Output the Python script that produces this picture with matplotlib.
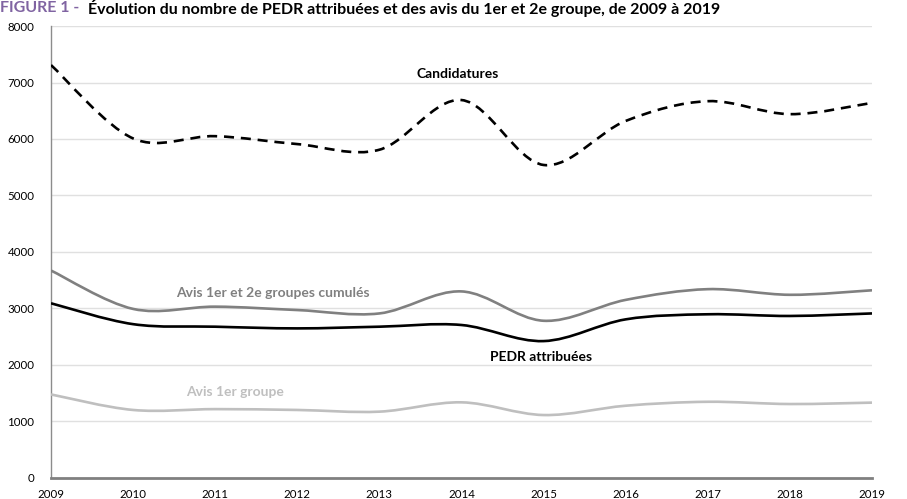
import matplotlib
matplotlib.use("Agg")
import matplotlib.pyplot as plt
from matplotlib.path import Path
from matplotlib.patches import PathPatch

years = [2009, 2010, 2011, 2012, 2013, 2014, 2015, 2016, 2017, 2018, 2019]
candidatures = [7310, 6010, 6050, 5910, 5810, 6690, 5540, 6320, 6670, 6440, 6640]
avis_cumules = [3670, 2990, 3030, 2970, 2910, 3300, 2780, 3150, 3340, 3240, 3320]
pedr_attribuees = [3090, 2720, 2675, 2645, 2675, 2705, 2420, 2805, 2895, 2865, 2910]
avis_1er = [1475, 1200, 1215, 1200, 1170, 1335, 1110, 1275, 1345, 1305, 1330]

y_ticks = [0, 1000, 2000, 3000, 4000, 5000, 6000, 7000, 8000]

plt.rcParams["font.family"] = ["Lato", "DejaVu Sans"]


def smooth_path(xs, ys):
    # cubic Bezier through each point (Catmull-Rom style, like spreadsheet smoothed lines)
    pts = list(zip(xs, ys))
    n = len(pts)
    verts = [pts[0]]
    codes = [Path.MOVETO]
    for i in range(n - 1):
        p0 = pts[i - 1] if i > 0 else pts[i]
        p1 = pts[i]
        p2 = pts[i + 1]
        p3 = pts[i + 2] if i + 2 < n else pts[i + 1]
        c1 = (p1[0] + (p2[0] - p0[0]) / 6, p1[1] + (p2[1] - p0[1]) / 6)
        c2 = (p2[0] - (p3[0] - p1[0]) / 6, p2[1] - (p3[1] - p1[1]) / 6)
        verts += [c1, c2, p2]
        codes += [Path.CURVE4] * 3
    return Path(verts, codes)


fig = plt.figure(figsize=(9.07, 4.99), dpi=100)
ax = fig.add_axes([51 / 907, 21.3 / 499, 821 / 907, 451.6 / 499])

series = [
    (avis_1er, "#bfbfbf", "-"),
    (avis_cumules, "#808080", "-"),
    (pedr_attribuees, "#000000", "-"),
    (candidatures, "#000000", (0, (3.8, 2.6))),
]
for values, color, style in series:
    patch = PathPatch(smooth_path(years, values), facecolor="none",
                      edgecolor=color, linewidth=1.9, linestyle=style,
                      capstyle="butt", zorder=3)
    ax.add_patch(patch)

ax.set_xlim(2009, 2019)
ax.set_ylim(0, 8000)
ax.set_xticks(years)
ax.set_yticks(y_ticks)
ax.tick_params(length=0, labelsize=8.3, colors="#000000")
ax.tick_params(axis="x", pad=8)
ax.tick_params(axis="y", pad=12)
ax.grid(axis="y", color="#e0e0e0", linewidth=1.0, zorder=0)
ax.set_axisbelow(True)
for side in ["top", "right"]:
    ax.spines[side].set_visible(False)
ax.spines["left"].set_color("#8c8c8c")
ax.spines["left"].set_linewidth(1.0)
ax.spines["bottom"].set_color("#808080")
ax.spines["bottom"].set_linewidth(2.0)

# series labels
ax.text(2013.95, 7150, "Candidatures", color="#000000", fontsize=10,
        fontweight="bold", ha="center", va="center")
ax.text(2011.70, 3270, "Avis 1er et 2e groupes cumulés", color="#808080",
        fontsize=10, fontweight="bold", ha="center", va="center")
ax.text(2014.97, 2140, "PEDR attribuées", color="#000000", fontsize=10,
        fontweight="bold", ha="center", va="center")
ax.text(2011.24, 1520, "Avis 1er groupe", color="#bfbfbf", fontsize=10,
        fontweight="bold", ha="center", va="center")

# figure title, tucked against the top edge
fig.text(0.0, 0.983, "FIGURE 1 -", color="#8064a2", fontsize=11.5,
         fontweight="bold", ha="left", va="center")
fig.text(88 / 907, 0.983,
         "Évolution du nombre de PEDR attribuées et des avis du 1er et 2e groupe, de 2009 à 2019",
         color="#000000", fontsize=11.5, fontweight="bold", ha="left", va="center")

fig.savefig("out.png", dpi=100)
